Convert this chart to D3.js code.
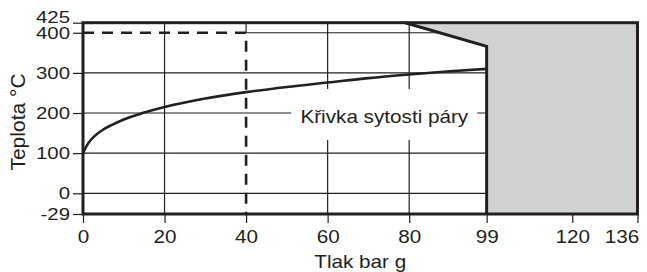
<!DOCTYPE html>
<html>
<head>
<meta charset="utf-8">
<script src="https://cdn.jsdelivr.net/npm/d3@7/dist/d3.min.js"></script>
<style>
  body { margin: 0; background: #fff; }
  svg { display: block; font-family: "Liberation Sans", Arial, Helvetica, sans-serif; }
</style>
</head>
<body>
<div id="chart"></div>
<script>
// saturation curve (bar g / deg C)
const pressure = [0, 1, 2, 3, 5, 7, 10, 15, 20, 25, 30, 40, 50, 60, 70, 80, 90, 99];
const temperature = [100, 120, 134, 144, 159, 170, 184, 201, 215, 226, 236, 252, 265, 276, 287, 296, 304, 310];

// limit of the allowed region (shaded part is outside)
const limitPressure = [79, 99, 99];
const limitTemperature = [425, 366, -29];

// design point marked with the dashed line
const designPressure = 40;
const designTemperature = 400;

const xTicks = [0, 20, 40, 60, 80, 99, 120, 136];
const yTicks = [-29, 0, 100, 200, 300, 400, 425];
const xGrid = [20, 60, 80];
const yGrid = [0, 100, 200, 300];
const curveLabel = "Křivka sytosti páry";
const xTitle = "Tlak bar g";
const yTitle = "Teplota °C";

let width = 647, height = 272;
let ink = "#231f20";
let stretch = 1.15;

let svg = d3.select("#chart").append("svg")
  .attr("width", width)
  .attr("height", height);

let x = d3.scaleLinear()
  .domain([0, 136])
  .range([83, 637.5]);
// bottom step (-29) is drawn wider than the rest of the scale
let y = d3.scaleLinear()
  .domain([-29, 0, 425])
  .range([214, 193.3, 22.7]);

let xMin = 0, xMax = 136, yMin = -29, yMax = 425;

// grid
let grid = svg.append("g")
  .attr("stroke", ink)
  .attr("stroke-width", 1.2);

grid.selectAll(".vgrid")
  .data(xGrid)
  .enter().append("line")
  .attr("x1", d => x(d)).attr("x2", d => x(d))
  .attr("y1", y(yMax)).attr("y2", y(yMin));

grid.append("line")
  .attr("x1", x(designPressure)).attr("x2", x(designPressure))
  .attr("y1", y(yMax)).attr("y2", y(designTemperature));

grid.selectAll(".hgrid")
  .data(yGrid)
  .enter().append("line")
  .attr("x1", x(0)).attr("x2", x(99))
  .attr("y1", d => y(d)).attr("y2", d => y(d));

grid.append("line")
  .attr("x1", x(designPressure)).attr("x2", x(99))
  .attr("y1", y(designTemperature)).attr("y2", y(designTemperature));

// shaded region
let shade = [[limitPressure[0], yMax], [xMax, yMax], [xMax, yMin]];
for (let i = limitPressure.length - 1; i >= 0; i--) {
  shade.push([limitPressure[i], limitTemperature[i]]);
}
svg.append("path")
  .attr("d", d3.line().x(d => x(d[0])).y(d => y(d[1]))(shade) + "Z")
  .attr("fill", "#d1d2d4");

// saturation curve
let curveData = pressure.map((p, i) => { return { p: p, t: temperature[i] }; });
svg.append("path")
  .datum(curveData)
  .attr("fill", "none")
  .attr("stroke", ink)
  .attr("stroke-width", 2.6)
  .attr("d", d3.line().x(d => x(d.p)).y(d => y(d.t)).curve(d3.curveMonotoneX));

// dashed design line
svg.append("path")
  .attr("fill", "none")
  .attr("stroke", ink)
  .attr("stroke-width", 2.6)
  .attr("stroke-dasharray", "11,8")
  .attr("d", d3.line()([
    [x(0), y(designTemperature)],
    [x(designPressure), y(designTemperature)],
    [x(designPressure), y(yMin)]
  ]));

// curve label with white box
let label = svg.append("g")
  .attr("transform", `translate(${x(73.9)},${y(200)})`);
label.append("rect")
  .attr("x", -93).attr("y", -24)
  .attr("width", 186).attr("height", 51)
  .attr("fill", "#fff");
label.append("text")
  .attr("text-anchor", "middle")
  .attr("y", 10)
  .attr("transform", `scale(${stretch},1)`)
  .attr("font-size", 18)
  .attr("fill", ink)
  .text(curveLabel);

// frame
let frame = svg.append("g")
  .attr("fill", "none")
  .attr("stroke", ink)
  .attr("stroke-width", 3)
  .attr("stroke-linejoin", "miter");
frame.append("rect")
  .attr("x", x(xMin)).attr("y", y(yMax))
  .attr("width", x(xMax) - x(xMin))
  .attr("height", y(yMin) - y(yMax));
frame.append("path")
  .attr("d", d3.line().x(d => x(d[0])).y(d => y(d[1]))(limitPressure.map((p, i) => [p, limitTemperature[i]])));

// axes (plain hyphen for -29, like the original)
let xAxis = d3.axisBottom(x)
  .tickValues(xTicks)
  .tickFormat(d => String(d))
  .tickSize(9)
  .tickPadding(7);
let yAxis = d3.axisLeft(y)
  .tickValues(yTicks)
  .tickFormat(d => String(d))
  .tickSize(10)
  .tickPadding(3);

let gx = svg.append("g")
  .attr("transform", `translate(0,${y(yMin)})`)
  .call(xAxis);
let gy = svg.append("g")
  .attr("transform", `translate(${x(xMin)},0)`)
  .call(yAxis);

[gx, gy].forEach(g => {
  g.select(".domain").remove();
  g.selectAll("line").attr("stroke", ink).attr("stroke-width", 1.2);
  g.selectAll("text").attr("fill", ink).attr("font-family", null);
});

gx.selectAll("text")
  .attr("font-size", 18)
  .attr("text-anchor", d => d === xMax ? "end" : "middle")
  .attr("x", d => d === xMax ? 1 : 0)
  .attr("transform", `scale(${stretch},1)`);
gy.selectAll("text")
  .attr("font-size", 17)
  .attr("x", 0)
  .attr("transform", d => `translate(-13,${d === yMax ? -6 : 0}) scale(1.2,1)`);

// axis titles
svg.append("text")
  .attr("transform", `translate(${(x(xMin) + x(xMax)) / 2},268) scale(${stretch},1)`)
  .attr("text-anchor", "middle")
  .attr("font-size", 18)
  .attr("fill", ink)
  .text(xTitle);

svg.append("text")
  .attr("transform", "translate(25,122) rotate(-90)")
  .attr("text-anchor", "middle")
  .attr("font-size", 21)
  .attr("fill", ink)
  .text(yTitle);
</script>
</body>
</html>
